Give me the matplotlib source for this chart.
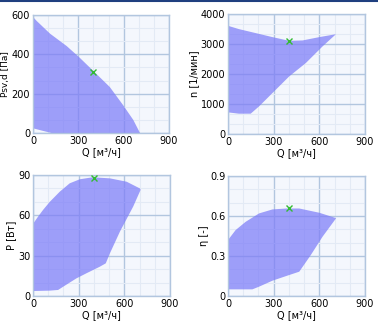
import matplotlib.pyplot as plt
from matplotlib.lines import Line2D
from matplotlib.ticker import MultipleLocator

# operating range envelopes, Q in m3/h
# static pressure
psv_top_q = [0, 24, 113, 223, 306, 400, 508, 596, 664, 708]
psv_top_v = [590, 570, 505, 442, 385, 315, 234, 142, 66, 0]
psv_bot_q = [708, 122, 60, 0]
psv_bot_v = [0, 0, 12, 24]

# speed
n_top_q = [0, 72, 182, 292, 402, 490, 600, 709]
n_top_v = [3611, 3500, 3367, 3233, 3110, 3122, 3233, 3330]
n_bot_q = [709, 621, 511, 402, 292, 204, 149, 72, 0]
n_bot_v = [3330, 2922, 2367, 1922, 1367, 922, 678, 678, 722]

# power
p_top_q = [0, 33, 66, 110, 176, 241, 307, 391, 505, 615, 702, 707]
p_top_v = [53.6, 59, 64, 70, 77.6, 83.8, 86.8, 88.3, 87.5, 85, 80, 79]
p_bot_q = [707, 658, 571, 505, 478, 439, 351, 285, 198, 165, 110, 0]
p_bot_v = [79, 66.5, 47.9, 31.7, 24.3, 21.8, 16.9, 13.1, 6.9, 4.5, 4, 3.7]

# efficiency
e_top_q = [0, 50, 116, 204, 292, 386, 468, 600, 709]
e_top_v = [0.42, 0.495, 0.557, 0.62, 0.65, 0.657, 0.657, 0.625, 0.585]
e_bot_q = [709, 621, 544, 468, 402, 292, 204, 160, 0]
e_bot_v = [0.582, 0.445, 0.3075, 0.1825, 0.1575, 0.115, 0.07, 0.05, 0.05]

# design point
dp_q = 400
dp_vals = [310, 3100, 88, 0.66]

ylabels = ['Psv,d [Па]', 'n [1/мин]', 'P [Вт]', 'η [-]']
yticks = [
    [0, 200, 400, 600],
    [0, 1000, 2000, 3000, 4000],
    [0, 30, 60, 90],
    [0, 0.3, 0.6, 0.9],
]
yticklabels = [
    ['0', '200', '400', '600'],
    ['0', '1000', '2000', '3000', '4000'],
    ['0', '30', '60', '90'],
    ['0', '0.3', '0.6', '0.9'],
]

shapes = [
    (psv_top_q + psv_bot_q, psv_top_v + psv_bot_v),
    (n_top_q + n_bot_q, n_top_v + n_bot_v),
    (p_top_q + p_bot_q, p_top_v + p_bot_v),
    (e_top_q + e_bot_q, e_top_v + e_bot_v),
]

positions = [
    [0.0873, 0.5895, 0.3598, 0.3642],
    [0.6032, 0.5864, 0.3624, 0.3700],
    [0.0873, 0.0864, 0.3625, 0.3735],
    [0.6032, 0.0864, 0.3624, 0.3700],
]

bg = '#f4f7fd'
major = '#b2c6df'
minor = '#e3eaf5'

fig = plt.figure(figsize=(3.78, 3.24), dpi=100)
fig.patch.set_facecolor('white')

for i in range(4):
    ax = fig.add_axes(positions[i])
    ax.set_facecolor(bg)
    qs, vs = shapes[i]
    ax.fill(qs, vs, color='#7c7cf8', alpha=0.72, lw=0, zorder=2)
    ax.plot([dp_q], [dp_vals[i]], marker='x', color='#33bb33', ms=5, mew=1.0, zorder=3)
    ax.set_xlim(0, 900)
    ax.set_ylim(0, yticks[i][-1])
    step = yticks[i][1]
    ax.xaxis.set_major_locator(MultipleLocator(300))
    ax.xaxis.set_minor_locator(MultipleLocator(100))
    ax.yaxis.set_minor_locator(MultipleLocator(step / 3))
    ax.set_yticks(yticks[i])
    ax.set_yticklabels(yticklabels[i])
    ax.grid(which='major', color=major, lw=1.0, zorder=1)
    ax.grid(which='minor', color=minor, lw=0.8, zorder=1)
    ax.set_axisbelow(True)
    for s in ax.spines.values():
        s.set_color(major)
        s.set_linewidth(1.0)
    ax.tick_params(which='both', length=0, labelsize=7, pad=2)
    ax.set_xlabel('Q [м³/ч]', fontsize=7, labelpad=1)
    ax.set_ylabel(ylabels[i], fontsize=6.5 if i == 0 else 7, labelpad=1)

fig.add_artist(Line2D([0, 1], [0.997, 0.997], color='#1f3f7f', lw=1.5))

fig.savefig('out.png', dpi=100)
